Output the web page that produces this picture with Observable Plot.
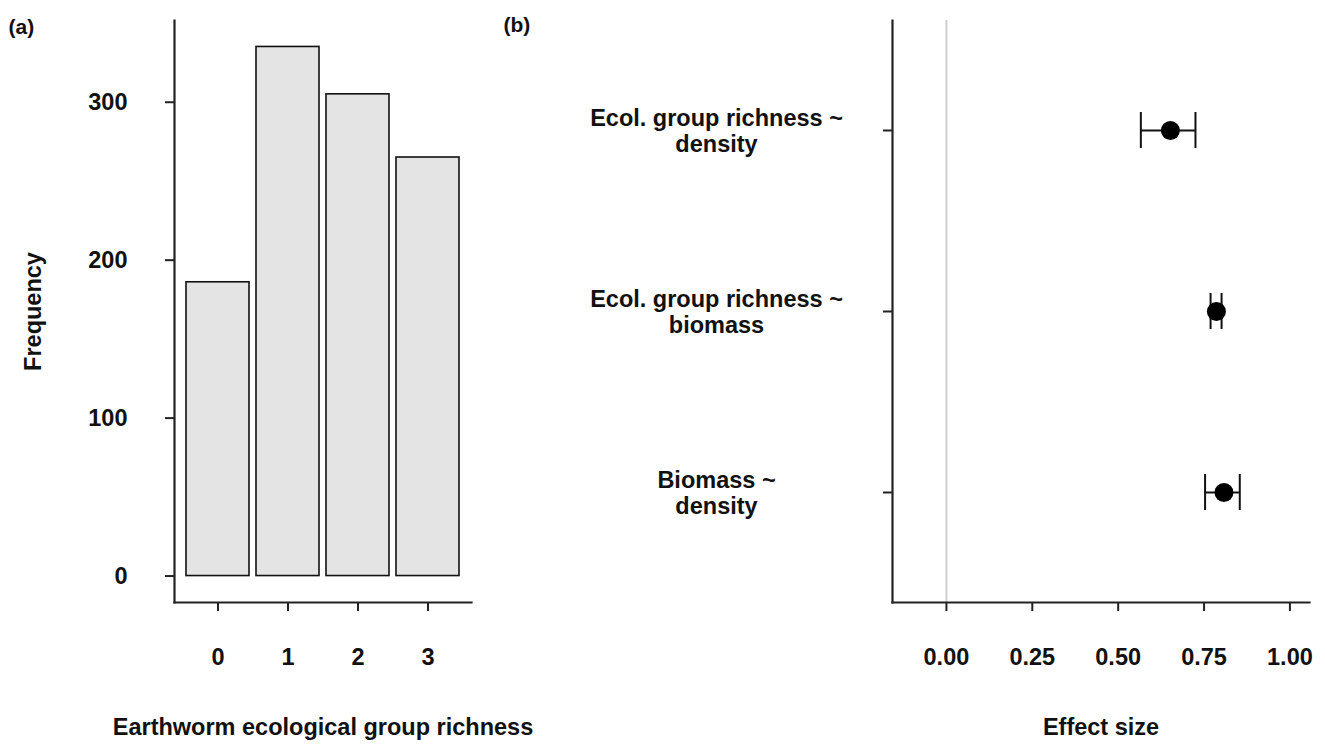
<!DOCTYPE html>
<html>
<head>
<meta charset="utf-8">
<script src="https://cdn.jsdelivr.net/npm/d3@7"></script>
<script src="https://cdn.jsdelivr.net/npm/@observablehq/plot@0.6"></script>
<style>
  html, body { margin: 0; padding: 0; background: #fff; }
  #wrap { position: relative; width: 1325px; height: 744px; overflow: hidden; background: #fff; }
  #wrap > div { position: absolute; top: 0; }
</style>
</head>
<body>
<div id="wrap"><div id="pa" style="left:0"></div><div id="pb" style="left:490px"></div></div>
<script>
// ---- Data ----
const richness = ["0", "1", "2", "3"];
const frequency = [186, 335, 305, 265];
const freqTicks = [0, 100, 200, 300];

const relations = ["Ecol. group richness ~\ndensity", "Ecol. group richness ~\nbiomass", "Biomass ~\ndensity"];
const effect = [0.652, 0.786, 0.808];
const lower = [0.566, 0.769, 0.753];
const upper = [0.725, 0.801, 0.854];
const effectTicks = [0, 0.25, 0.5, 0.75, 1];

// ---- Tables ----
const bars = richness.map((r, i) => ({r, n: frequency[i]}));
const est = relations.map((rel, i) => ({rel, e: effect[i], lo: lower[i], hi: upper[i]}));

const font = {fontFamily: "'Liberation Sans', Arial, Helvetica, sans-serif", fontSize: "23.5px", fontWeight: "bold", background: "transparent", color: "#111"};
const maxN = d3.max(frequency);

const pa = Plot.plot({
  width: 560, height: 744,
  marginLeft: 174, marginRight: 89, marginTop: 20, marginBottom: 142,
  style: font,
  x: {type: "band", domain: richness, paddingInner: 0.1, paddingOuter: 0.15, axis: null},
  y: {domain: [-0.05 * maxN, 1.05 * maxN], axis: null},
  marks: [
    Plot.barY(bars, {x: "r", y: "n", fill: "#e4e4e4", stroke: "#111", strokeWidth: 1.6}),
    Plot.frame({anchor: "left", stroke: "#222", strokeWidth: 2.2}),
    Plot.frame({anchor: "bottom", stroke: "#222", strokeWidth: 2.2}),
    Plot.axisY({ticks: freqTicks, tickSize: 9, tickPadding: 38, strokeWidth: 2, stroke: "#222", label: null}),
    Plot.axisX({tickSize: 9, tickPadding: 37, strokeWidth: 2, stroke: "#222", label: null}),
    Plot.text(["Earthworm ecological group richness"], {frameAnchor: "bottom", dy: 132}),
    Plot.text(["Frequency"], {frameAnchor: "left", textAnchor: "middle", rotate: -90, dx: -141}),
    Plot.text(["(a)"], {frameAnchor: "top-left", textAnchor: "start", dx: -166, dy: -1, fontSize: 21})
  ]
});
document.getElementById("pa").appendChild(pa);

const pb = Plot.plot({
  width: 835, height: 744,
  marginLeft: 402, marginRight: 16, marginTop: 20, marginBottom: 142,
  style: font,
  x: {domain: [-0.157, 1.057], axis: null},
  y: {type: "band", domain: relations, paddingInner: 0.802, paddingOuter: 0.501, axis: null},
  marks: [
    Plot.ruleX([0], {stroke: "#cfcfcf", strokeWidth: 2}),
    Plot.frame({anchor: "left", stroke: "#222", strokeWidth: 2.2}),
    Plot.frame({anchor: "bottom", stroke: "#222", strokeWidth: 2.2}),
    Plot.ruleY(est, {y: "rel", x1: "lo", x2: "hi", stroke: "#111", strokeWidth: 2}),
    Plot.tickX(est, {x: "lo", y: "rel", stroke: "#111", strokeWidth: 2}),
    Plot.tickX(est, {x: "hi", y: "rel", stroke: "#111", strokeWidth: 2}),
    Plot.dot(est, {x: "e", y: "rel", r: 9.5, fill: "#000", stroke: null}),
    Plot.axisY({tickSize: 9, tickPadding: 167, textAnchor: "middle", lineHeight: 1.1, strokeWidth: 2, stroke: "#222", label: null}),
    Plot.axisX({ticks: effectTicks, tickFormat: ".2f", tickSize: 9, tickPadding: 37, strokeWidth: 2, stroke: "#222", label: null}),
    Plot.text(["Effect size"], {frameAnchor: "bottom", dy: 132}),
    Plot.text(["(b)"], {frameAnchor: "top-left", textAnchor: "start", dx: -389, dy: -3, fontSize: 21})
  ]
});
document.getElementById("pb").appendChild(pb);
</script>
</body>
</html>
